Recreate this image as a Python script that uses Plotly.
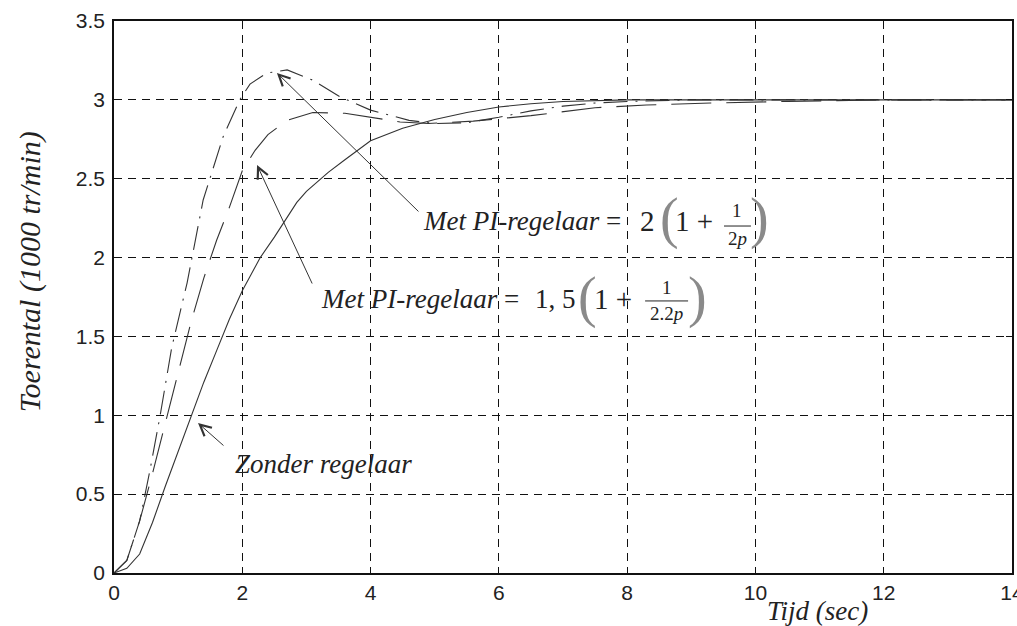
import plotly.graph_objects as go

# step response data (time in sec, speed in 1000 tr/min)
t_zonder = [0, 0.2, 0.4, 0.6, 0.8, 1.0, 1.2, 1.4, 1.6, 1.8, 2.0, 2.28, 2.5, 2.85, 3.0,
            3.34, 3.6, 4.0, 4.5, 4.77, 5.0, 5.5, 6.0, 6.5, 7.0, 8.0, 10.0, 12.0, 14.0]
y_zonder = [0, 0.03, 0.12, 0.32, 0.55, 0.77, 1.0, 1.21, 1.41, 1.61, 1.79, 2.0, 2.13, 2.35, 2.42,
            2.54, 2.62, 2.74, 2.82, 2.85, 2.875, 2.92, 2.955, 2.975, 2.99, 3.0, 3.0, 3.0, 3.0]

t_pi15 = [0, 0.2, 0.4, 0.6, 0.8, 1.0, 1.2, 1.4, 1.6, 1.8, 2.0, 2.2, 2.4, 2.7, 3.1,
          3.6, 4.0, 4.46, 4.9, 5.6, 6.5, 7.5, 8.3, 9.3, 10.5, 12.0, 14.0]
y_pi15 = [0, 0.08, 0.33, 0.63, 0.95, 1.27, 1.59, 1.87, 2.11, 2.32, 2.55, 2.68, 2.78, 2.87, 2.92,
          2.915, 2.89, 2.86, 2.85, 2.865, 2.90, 2.95, 2.967, 2.98, 2.99, 3.0, 3.0]

t_pi2 = [0, 0.2, 0.4, 0.56, 0.72, 0.9, 1.14, 1.39, 1.7, 1.96, 2.12, 2.38, 2.7, 3.1, 3.52,
         4.0, 4.6, 5.0, 5.5, 6.0, 6.5, 7.0, 7.5, 8.0, 9.0, 14.0]
y_pi2 = [0, 0.08, 0.33, 0.65, 1.0, 1.43, 1.84, 2.365, 2.765, 3.0, 3.10, 3.17, 3.19, 3.125, 3.02,
         2.935, 2.87, 2.85, 2.855, 2.89, 2.93, 2.96, 2.98, 2.99, 3.0, 3.0]

x_ticks = [0, 2, 4, 6, 8, 10, 12, 14]
y_ticks = [0, 0.5, 1, 1.5, 2, 2.5, 3, 3.5]
y_ticktext = ["0", "0.5", "1", "1.5", "2", "2.5", "3", "3.5"]

serif = "Liberation Serif, Times New Roman, serif"
sans = "Liberation Sans, Arial, sans-serif"
ink = "#222222"

fig = go.Figure()
fig.add_trace(go.Scatter(x=t_zonder, y=y_zonder, mode="lines",
                         line=dict(color="#333333", width=1.1)))
fig.add_trace(go.Scatter(x=t_pi15, y=y_pi15, mode="lines",
                         line=dict(color="#333333", width=1.1, dash="40px,15px")))
fig.add_trace(go.Scatter(x=t_pi2, y=y_pi2, mode="lines",
                         line=dict(color="#333333", width=1.1, dash="24px,8px,2px,8px")))

fig.update_layout(
    width=1017, height=626,
    margin=dict(l=114, r=5, t=21, b=53),
    plot_bgcolor="white", paper_bgcolor="white",
    showlegend=False,
    font=dict(family=sans, size=21, color=ink),
)
axis_style = dict(ticks="inside", ticklen=6, automargin=False, ticklabeloverflow="allow",
                  showline=True, linecolor="#111111", linewidth=1.5, mirror="ticks",
                  tickcolor="#111111",
                  showgrid=True, gridcolor="#111111", gridwidth=1, griddash="8px,6px",
                  zeroline=False, tickfont=dict(family=sans, size=21, color=ink))
fig.update_xaxes(range=[0, 14], tickvals=x_ticks, **axis_style)
fig.update_yaxes(range=[0, 3.5], tickvals=y_ticks, ticktext=y_ticktext,
                 ticklabelstandoff=3, **axis_style)

# axis titles
fig.add_annotation(text="<i>Tijd (sec)</i>", xref="x", yref="paper", x=10.96, y=-0.068,
                   showarrow=False, font=dict(family=serif, size=27, color=ink),
                   xanchor="center", yanchor="middle")
fig.add_annotation(text="<i>Toerental (1000 tr/min)</i>", xref="paper", yref="y",
                   x=-0.094, y=1.91, textangle=-90, showarrow=False,
                   font=dict(family=serif, size=30, color=ink),
                   xanchor="center", yanchor="middle")

# arrows
arrow = dict(showarrow=True, arrowhead=5, arrowsize=2.2, arrowwidth=1, arrowcolor="#333333",
             axref="x", ayref="y", text="")
fig.add_annotation(x=1.31, y=0.951, ax=1.73, ay=0.80, **arrow)
fig.add_annotation(x=2.54, y=3.171, ax=4.77, ay=2.283, **arrow)
fig.add_annotation(x=2.23, y=2.587, ax=3.10, ay=1.826, **arrow)

lab = dict(showarrow=False, xref="x", yref="y", yanchor="middle")
f27 = dict(family=serif, size=27, color=ink)
f30 = dict(family=serif, size=29, color=ink)
f19 = dict(family=serif, size=19, color=ink)
fparen = dict(family=serif, size=56, color="#8a8a8a")

fig.add_annotation(text="<i>Zonder regelaar</i>", x=1.85, y=0.69, xanchor="left", font=f27, **lab)

# Met PI-regelaar = 2(1 + 1/2p)
fig.add_annotation(text="<i>Met PI-regelaar</i> =", x=4.78, y=2.232, xanchor="left", font=f27, **lab)
fig.add_annotation(text="2", x=8.31, y=2.232, xanchor="center", font=f30, **lab)
fig.add_annotation(text="(", x=8.66, y=2.245, xanchor="center", font=fparen, **lab)
fig.add_annotation(text="1 +", x=9.04, y=2.232, xanchor="center", font=f30, **lab)
fig.add_annotation(text="1", x=9.72, y=2.30, xanchor="center", font=f19, **lab)
fig.add_annotation(text="2<i>p</i>", x=9.72, y=2.12, xanchor="center", font=f19, **lab)
fig.add_annotation(text=")", x=10.07, y=2.245, xanchor="center", font=fparen, **lab)
fig.add_shape(type="line", x0=9.51, x1=9.93, y0=2.20, y1=2.20, line=dict(color=ink, width=1))

# Met PI-regelaar = 1,5(1 + 1/2.2p)
fig.add_annotation(text="<i>Met PI-regelaar</i> =", x=3.19, y=1.737, xanchor="left", font=f27, **lab)
fig.add_annotation(text="1, 5", x=6.88, y=1.737, xanchor="center", font=f27, **lab)
fig.add_annotation(text="(", x=7.38, y=1.75, xanchor="center", font=fparen, **lab)
fig.add_annotation(text="1 +", x=7.78, y=1.737, xanchor="center", font=f30, **lab)
fig.add_annotation(text="1", x=8.62, y=1.81, xanchor="center", font=f19, **lab)
fig.add_annotation(text="2.2<i>p</i>", x=8.62, y=1.645, xanchor="center", font=f19, **lab)
fig.add_annotation(text=")", x=9.09, y=1.75, xanchor="center", font=fparen, **lab)
fig.add_shape(type="line", x0=8.28, x1=8.95, y0=1.725, y1=1.725, line=dict(color=ink, width=1))

# page body has a default 8px margin; drop it so the figure fills the window
fig.write_html("out.html", config={"displayModeBar": False},
               post_script="document.body.style.margin='0';")
